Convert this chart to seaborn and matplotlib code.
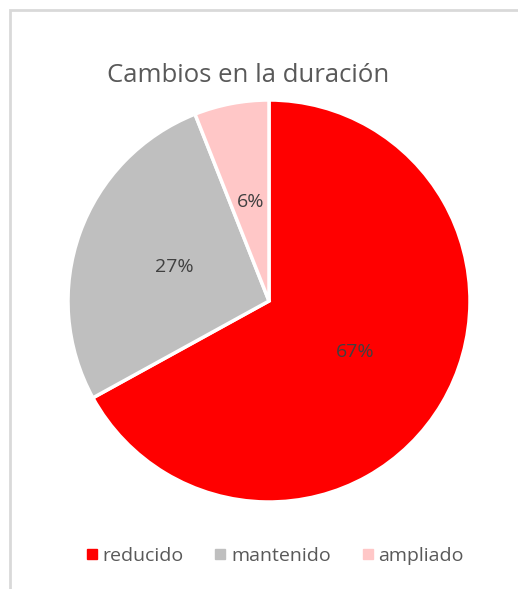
import matplotlib
matplotlib.use("Agg")
import matplotlib.pyplot as plt
from matplotlib.lines import Line2D
from matplotlib.patches import Rectangle
import seaborn as sns

# data
labels = ["reducido", "mantenido", "ampliado"]
values = [67, 27, 6]
colors = ["#ff0000", "#bfbfbf", "#ffc7c7"]

sns.set_theme(style="white")
plt.rcParams['font.family'] = ['Open Sans', 'DejaVu Sans']

fig = plt.figure(figsize=(5.18, 5.89), dpi=100)
fig.patch.set_facecolor("white")

# chart area border (light grey, runs off right/bottom)
fig.add_artist(Rectangle((10 / 518, -0.05), 1.2, (589 - 10) / 589 + 0.05,
                         transform=fig.transFigure, fill=False,
                         edgecolor="#d9d9d9", linewidth=2))

ax = fig.add_axes([(269 - 201) / 518, (589 - 502) / 589, 402 / 518, 402 / 589])
wedges, texts, autotexts = ax.pie(
    values, colors=colors, startangle=90, counterclock=False,
    autopct="%1.0f%%", pctdistance=0.5,
    wedgeprops=dict(edgecolor="white", linewidth=2.5),
    textprops=dict(color="#404040", fontsize=14),
)
ax.set_aspect("equal")
ax.set_xlim(-1, 1)
ax.set_ylim(-1, 1)

fig.text(248 / 518, 1 - 75 / 589, "Cambios en la duración", ha="center", va="center",
         fontsize=18.5, color="#595959")

handles = [Line2D([], [], marker="s", linestyle="none", markersize=6.5,
                  markerfacecolor=c, markeredgecolor=c) for c in colors]
fig.legend(handles, labels, loc="center", bbox_to_anchor=(0.525, 1 - 556 / 589),
           ncol=3, frameon=False, fontsize=14, handletextpad=-0.05,
           handlelength=1.2, columnspacing=1.3, labelcolor="#595959")

fig.savefig("out.png", dpi=100)
